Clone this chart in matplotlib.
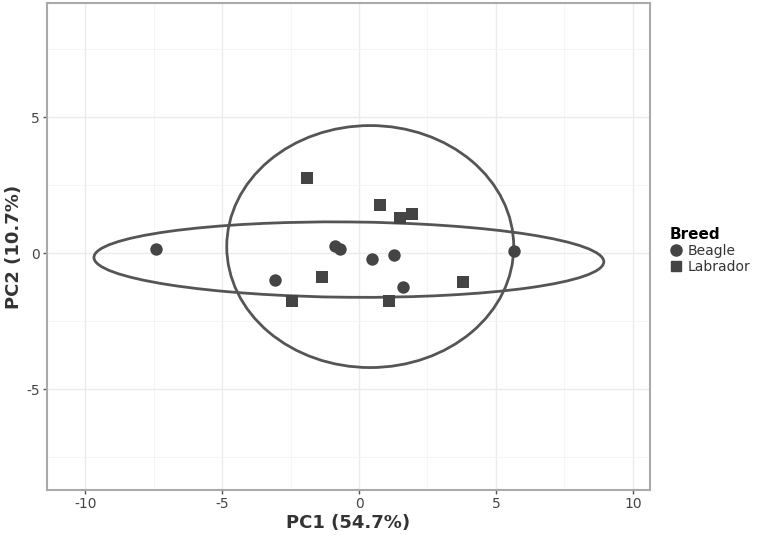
import matplotlib
matplotlib.use("Agg")
import matplotlib.pyplot as plt
from matplotlib.patches import Ellipse
from matplotlib.lines import Line2D

plt.rcParams["axes.unicode_minus"] = False

# Data
beagle_pc1 = [-7.42, -0.88, -0.70, 0.48, 1.28, -3.07, 1.62, 5.65]
beagle_pc2 = [0.14, 0.25, 0.15, -0.22, -0.08, -1.00, -1.24, 0.08]
labrador_pc1 = [-1.91, 0.75, 1.49, 1.93, -1.36, -2.46, 1.09, 3.78]
labrador_pc2 = [2.77, 1.78, 1.30, 1.42, -0.88, -1.77, -1.77, -1.08]

# Ellipses (center x, center y, full width, full height, angle)
beagle_ellipse = (-0.37, -0.24, 18.62, 2.77, -0.5)
labrador_ellipse = (0.41, 0.24, 10.48, 8.90, 0.0)

xticks = [-10, -5, 0, 5, 10]
yticks = [-5, 0, 5]
xminor = [-7.5, -2.5, 2.5, 7.5]
yminor = [-7.5, -2.5, 2.5, 7.5]

fig = plt.figure(figsize=(7.6, 5.36), dpi=100)
ax = fig.add_axes([0.062, 0.086, 0.793, 0.908])

pt_color = "#444444"
ax.scatter(beagle_pc1, beagle_pc2, marker="o", s=80, color=pt_color, zorder=3, linewidths=0)
ax.scatter(labrador_pc1, labrador_pc2, marker="s", s=64, color=pt_color, zorder=3, linewidths=0)

for (cx, cy, w, h, a) in (beagle_ellipse, labrador_ellipse):
    ax.add_patch(Ellipse((cx, cy), w, h, angle=a, fill=False, edgecolor="#555555", lw=2.0, zorder=2))

ax.set_xlim(-11.39, 10.62)
ax.set_ylim(-8.71, 9.19)
ax.set_xticks(xticks)
ax.set_yticks(yticks)
ax.set_xticks(xminor, minor=True)
ax.set_yticks(yminor, minor=True)
ax.grid(True, which="major", color="#ebebeb", lw=1.0, zorder=0)
ax.grid(True, which="minor", color="#f4f4f4", lw=0.6, zorder=0)
ax.set_axisbelow(True)
ax.tick_params(which="minor", length=0)
ax.tick_params(which="major", length=3, width=1, color="#555555", labelsize=10, labelcolor="#444444", pad=2)

for s in ax.spines.values():
    s.set_color("#aaaaaa")
    s.set_linewidth(1.5)

ax.set_xlabel("PC1 (54.7%)", fontsize=13, fontweight="bold", color="#333333", labelpad=2)
ax.set_ylabel("PC2 (10.7%)", fontsize=13, fontweight="bold", color="#333333")
ax.yaxis.set_label_coords(-0.040, 0.5)

handles = [
    Line2D([0], [0], marker="o", linestyle="", color=pt_color, markersize=8),
    Line2D([0], [0], marker="s", linestyle="", color=pt_color, markersize=7),
]
leg = fig.legend(handles, ["Beagle", "Labrador"], title="Breed", loc="upper left",
                 bbox_to_anchor=(0.868, 0.595), frameon=False, fontsize=10,
                 title_fontproperties={"weight": "bold", "size": 11},
                 handlelength=1.0, handletextpad=0.3, labelspacing=0.15, borderpad=0.2)
leg._legend_box.align = "left"
for t in leg.get_texts():
    t.set_color("#333333")

fig.savefig("out.png", dpi=100)
